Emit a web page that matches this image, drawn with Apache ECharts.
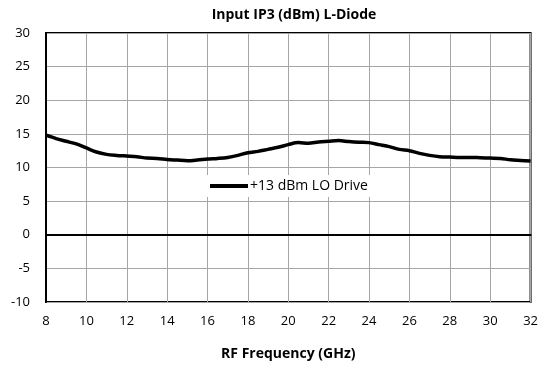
<!DOCTYPE html>
<html>
<head>
<meta charset="utf-8">
<script src="https://cdn.jsdelivr.net/npm/echarts@6/dist/echarts.min.js"></script>
<style>html,body{margin:0;padding:0;background:#fff}#c{width:541px;height:368px}</style>
</head>
<body>
<div id="c"></div>
<script>
const freqGHz = [8,8.5,9,9.5,10,10.5,11,11.5,12,12.5,13,13.5,14,14.5,15,15.5,16,16.5,17,17.5,18,18.5,19,19.5,20,20.5,21,21.5,22,22.5,23,23.5,24,24.5,25,25.5,26,26.5,27,27.5,28,28.5,29,29.5,30,30.5,31,31.5,32];
const iip3 = [14.8,14.3,13.9,13.5,12.9,12.3,11.95,11.8,11.7,11.6,11.4,11.35,11.2,11.1,11.0,11.1,11.25,11.35,11.5,11.8,12.2,12.4,12.7,13.0,13.4,13.7,13.6,13.8,13.9,14.0,13.85,13.75,13.7,13.4,13.1,12.7,12.5,12.1,11.8,11.6,11.55,11.5,11.5,11.45,11.4,11.35,11.15,11.05,10.95];
const seriesName = '+13 dBm LO Drive';
const titleText = 'Input IP3 (dBm) L-Diode';
const xTitle = 'RF Frequency (GHz)';

const font = '"Open Sans", sans-serif';
const chart = echarts.init(document.getElementById('c'));
chart.setOption({
  animation: false,
  title: {
    text: titleText, left: 289, top: 3, textAlign: 'center',
    textStyle: {fontFamily: font, fontSize: 14, fontWeight: 'bold', color: '#000'}
  },
  legend: {
    data: [{name: seriesName, icon: 'rect'}],
    left: 204, top: 175,
    backgroundColor: '#fff',
    padding: [4, 6, 4, 6],
    itemWidth: 38, itemHeight: 4, itemGap: 4,
    textStyle: {fontFamily: font, fontSize: 14, color: '#000', padding: [0,0,0,-3]}
  },
  grid: {left: 46, right: 9, top: 33, bottom: 66, show: true, borderColor: '#000', borderWidth: 2, backgroundColor: 'transparent'},
  xAxis: {
    type: 'value', min: 8, max: 32, interval: 2,
    name: xTitle, nameLocation: 'middle', nameGap: 45,
    nameTextStyle: {fontFamily: font, fontSize: 14, fontWeight: 'bold', color: '#000'},
    axisLine: {show: true, lineStyle: {color: '#000', width: 2}},
    axisTick: {show: false},
    axisLabel: {fontFamily: font, fontSize: 13, color: '#000', margin: 13},
    splitLine: {show: true, lineStyle: {color: '#a6a6a6', width: 1}}
  },
  yAxis: {
    type: 'value', min: -10, max: 30, interval: 5,
    axisLine: {show: true, lineStyle: {color: '#000', width: 2}},
    axisTick: {show: false},
    axisLabel: {fontFamily: font, fontSize: 13, color: '#000', margin: 16},
    splitLine: {show: true, lineStyle: {color: '#a6a6a6', width: 1}}
  },
  series: [{
    name: seriesName, type: 'line',
    data: freqGHz.map((f, i) => [f, iip3[i]]),
    smooth: 0.3, symbol: 'none',
    lineStyle: {color: '#000', width: 3.5},
    itemStyle: {color: '#000'},
    markLine: {
      silent: true, symbol: 'none', label: {show: false},
      lineStyle: {color: '#000', width: 1, type: 'solid'},
      data: [{yAxis: 0}]
    }
  }]
});
</script>
</body>
</html>
